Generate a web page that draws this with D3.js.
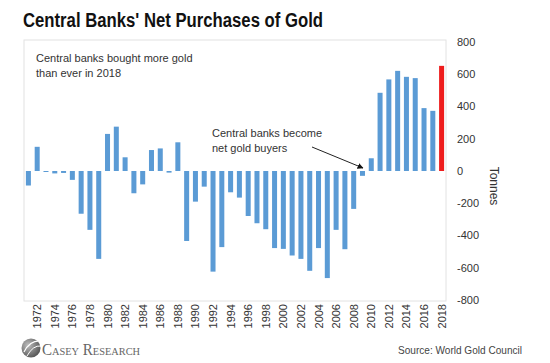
<!DOCTYPE html>
<html>
<head>
<meta charset="utf-8">
<script src="https://cdn.jsdelivr.net/npm/d3@7"></script>
<style>
  body { margin: 0; background: #fff; }
  text { font-family: "Liberation Sans", Arial, sans-serif; }
</style>
</head>
<body>
<div id="chart"></div>
<script>
'use strict';

// net purchases, tonnes, 1971 - 2018
let years = d3.range(1971, 2019);
let tonnes = [
    -90, 150, -5, -15, -12, -55, -265, -365, -545, 230,
    275, 85, -138, -83, 130, 140, -10, 178, -434, -190,
    -97, -624, -472, -132, -165, -279, -324, -361, -478, -483,
    -524, -545, -619, -478, -664, -365, -485, -235, -30, 79,
    485, 568, 621, 584, 576, 390, 373, 652
];
let yTicks = [800, 600, 400, 200, 0, -200, -400, -600, -800];
let xTicks = d3.range(1972, 2019, 2);

let width = 550,
    height = 363;

let svg = d3.select("#chart").append("svg")
    .attr("width", width)
    .attr("height", height);

let x = d3.scaleBand()
    .domain(years)
    .range([24, 446])
    .paddingInner(0.43)
    .paddingOuter(0.215);

let y = d3.scaleLinear()
    .domain([-800, 800])
    .range([300, 42]);

// plot frame
svg.append("rect")
    .attr("x", 24)
    .attr("y", 40)
    .attr("width", 422)
    .attr("height", 261)
    .attr("fill", "none")
    .attr("stroke", "#e2e2e2");

// title
svg.append("text")
    .attr("x", 23)
    .attr("y", 27)
    .attr("textLength", 300)
    .attr("lengthAdjust", "spacingAndGlyphs")
    .style("font-size", "20px")
    .style("font-weight", "bold")
    .style("fill", "#111")
    .text("Central Banks' Net Purchases of Gold");

// bars
svg.append("g")
    .selectAll("rect")
    .data(tonnes)
    .enter().append("rect")
    .attr("x", function(d, i) { return x(years[i]); })
    .attr("width", x.bandwidth())
    .attr("y", function(d) { return y(Math.max(0, d)); })
    .attr("height", function(d) { return Math.max(1, Math.abs(y(d) - y(0))); })
    .attr("fill", function(d, i) { return years[i] === 2018 ? "#ee1c1c" : "#5b9bd5"; });

// right y axis labels
svg.append("g")
    .selectAll("text")
    .data(yTicks)
    .enter().append("text")
    .attr("x", 457)
    .attr("y", function(d) { return y(d); })
    .attr("dy", "0.35em")
    .style("font-size", "11px")
    .style("fill", "#333")
    .text(function(d) { return d; });

svg.append("text")
    .attr("transform", "translate(490,186) rotate(90)")
    .attr("text-anchor", "middle")
    .style("font-size", "12px")
    .style("fill", "#333")
    .text("Tonnes");

// x axis labels, vertical
svg.append("g")
    .selectAll("text")
    .data(xTicks)
    .enter().append("text")
    .attr("transform", function(d) {
        return "translate(" + (x(d) + x.bandwidth() / 2 + 4) + ",304) rotate(-90)";
    })
    .attr("text-anchor", "end")
    .style("font-size", "11px")
    .style("fill", "#333")
    .text(function(d) { return d; });

// annotations
let note1 = svg.append("text")
    .style("font-size", "11px")
    .style("fill", "#333");
note1.append("tspan").attr("x", 36).attr("y", 62).text("Central banks bought more gold");
note1.append("tspan").attr("x", 36).attr("y", 77).text("than ever in 2018");

let note2 = svg.append("text")
    .style("font-size", "11px")
    .style("fill", "#333");
note2.append("tspan").attr("x", 212).attr("y", 137).text("Central banks become");
note2.append("tspan").attr("x", 212).attr("y", 152).text("net gold buyers");

svg.append("defs").append("marker")
    .attr("id", "arrow")
    .attr("viewBox", "0 0 10 10")
    .attr("refX", 9)
    .attr("refY", 5)
    .attr("markerWidth", 6)
    .attr("markerHeight", 6)
    .attr("orient", "auto")
    .append("path")
    .attr("d", "M0,0 L10,5 L0,10 z")
    .attr("fill", "#111");

svg.append("line")
    .attr("x1", 312)
    .attr("y1", 147)
    .attr("x2", x(2009) + 3)
    .attr("y2", 168)
    .attr("stroke", "#222")
    .attr("stroke-width", 1)
    .attr("marker-end", "url(#arrow)");

// footer: logo + source
let grad = svg.select("defs").append("radialGradient")
    .attr("id", "ball")
    .attr("cx", "35%")
    .attr("cy", "35%")
    .attr("r", "70%");
grad.append("stop").attr("offset", "0%").attr("stop-color", "#bdbdbd");
grad.append("stop").attr("offset", "100%").attr("stop-color", "#555");

svg.append("circle")
    .attr("cx", 31)
    .attr("cy", 348)
    .attr("r", 9.5)
    .attr("fill", "url(#ball)");

svg.append("path")
    .attr("d", "M24,352 Q30,340 41,341")
    .attr("fill", "none")
    .attr("stroke", "#fff")
    .attr("stroke-width", 1.2);
svg.append("path")
    .attr("d", "M27,356 Q33,345 41,346")
    .attr("fill", "none")
    .attr("stroke", "#fff")
    .attr("stroke-width", 1);

svg.append("text")
    .attr("x", 42)
    .attr("y", 355)
    .attr("textLength", 98)
    .attr("lengthAdjust", "spacingAndGlyphs")
    .style("font-family", "'Liberation Serif', 'DejaVu Serif', serif")
    .style("font-variant", "small-caps")
    .style("font-size", "16px")
    .style("fill", "#666")
    .text("Casey Research");

svg.append("text")
    .attr("x", 398)
    .attr("y", 354)
    .attr("textLength", 124)
    .attr("lengthAdjust", "spacingAndGlyphs")
    .style("font-size", "10.5px")
    .style("fill", "#444")
    .text("Source: World Gold Council");
</script>
</body>
</html>
